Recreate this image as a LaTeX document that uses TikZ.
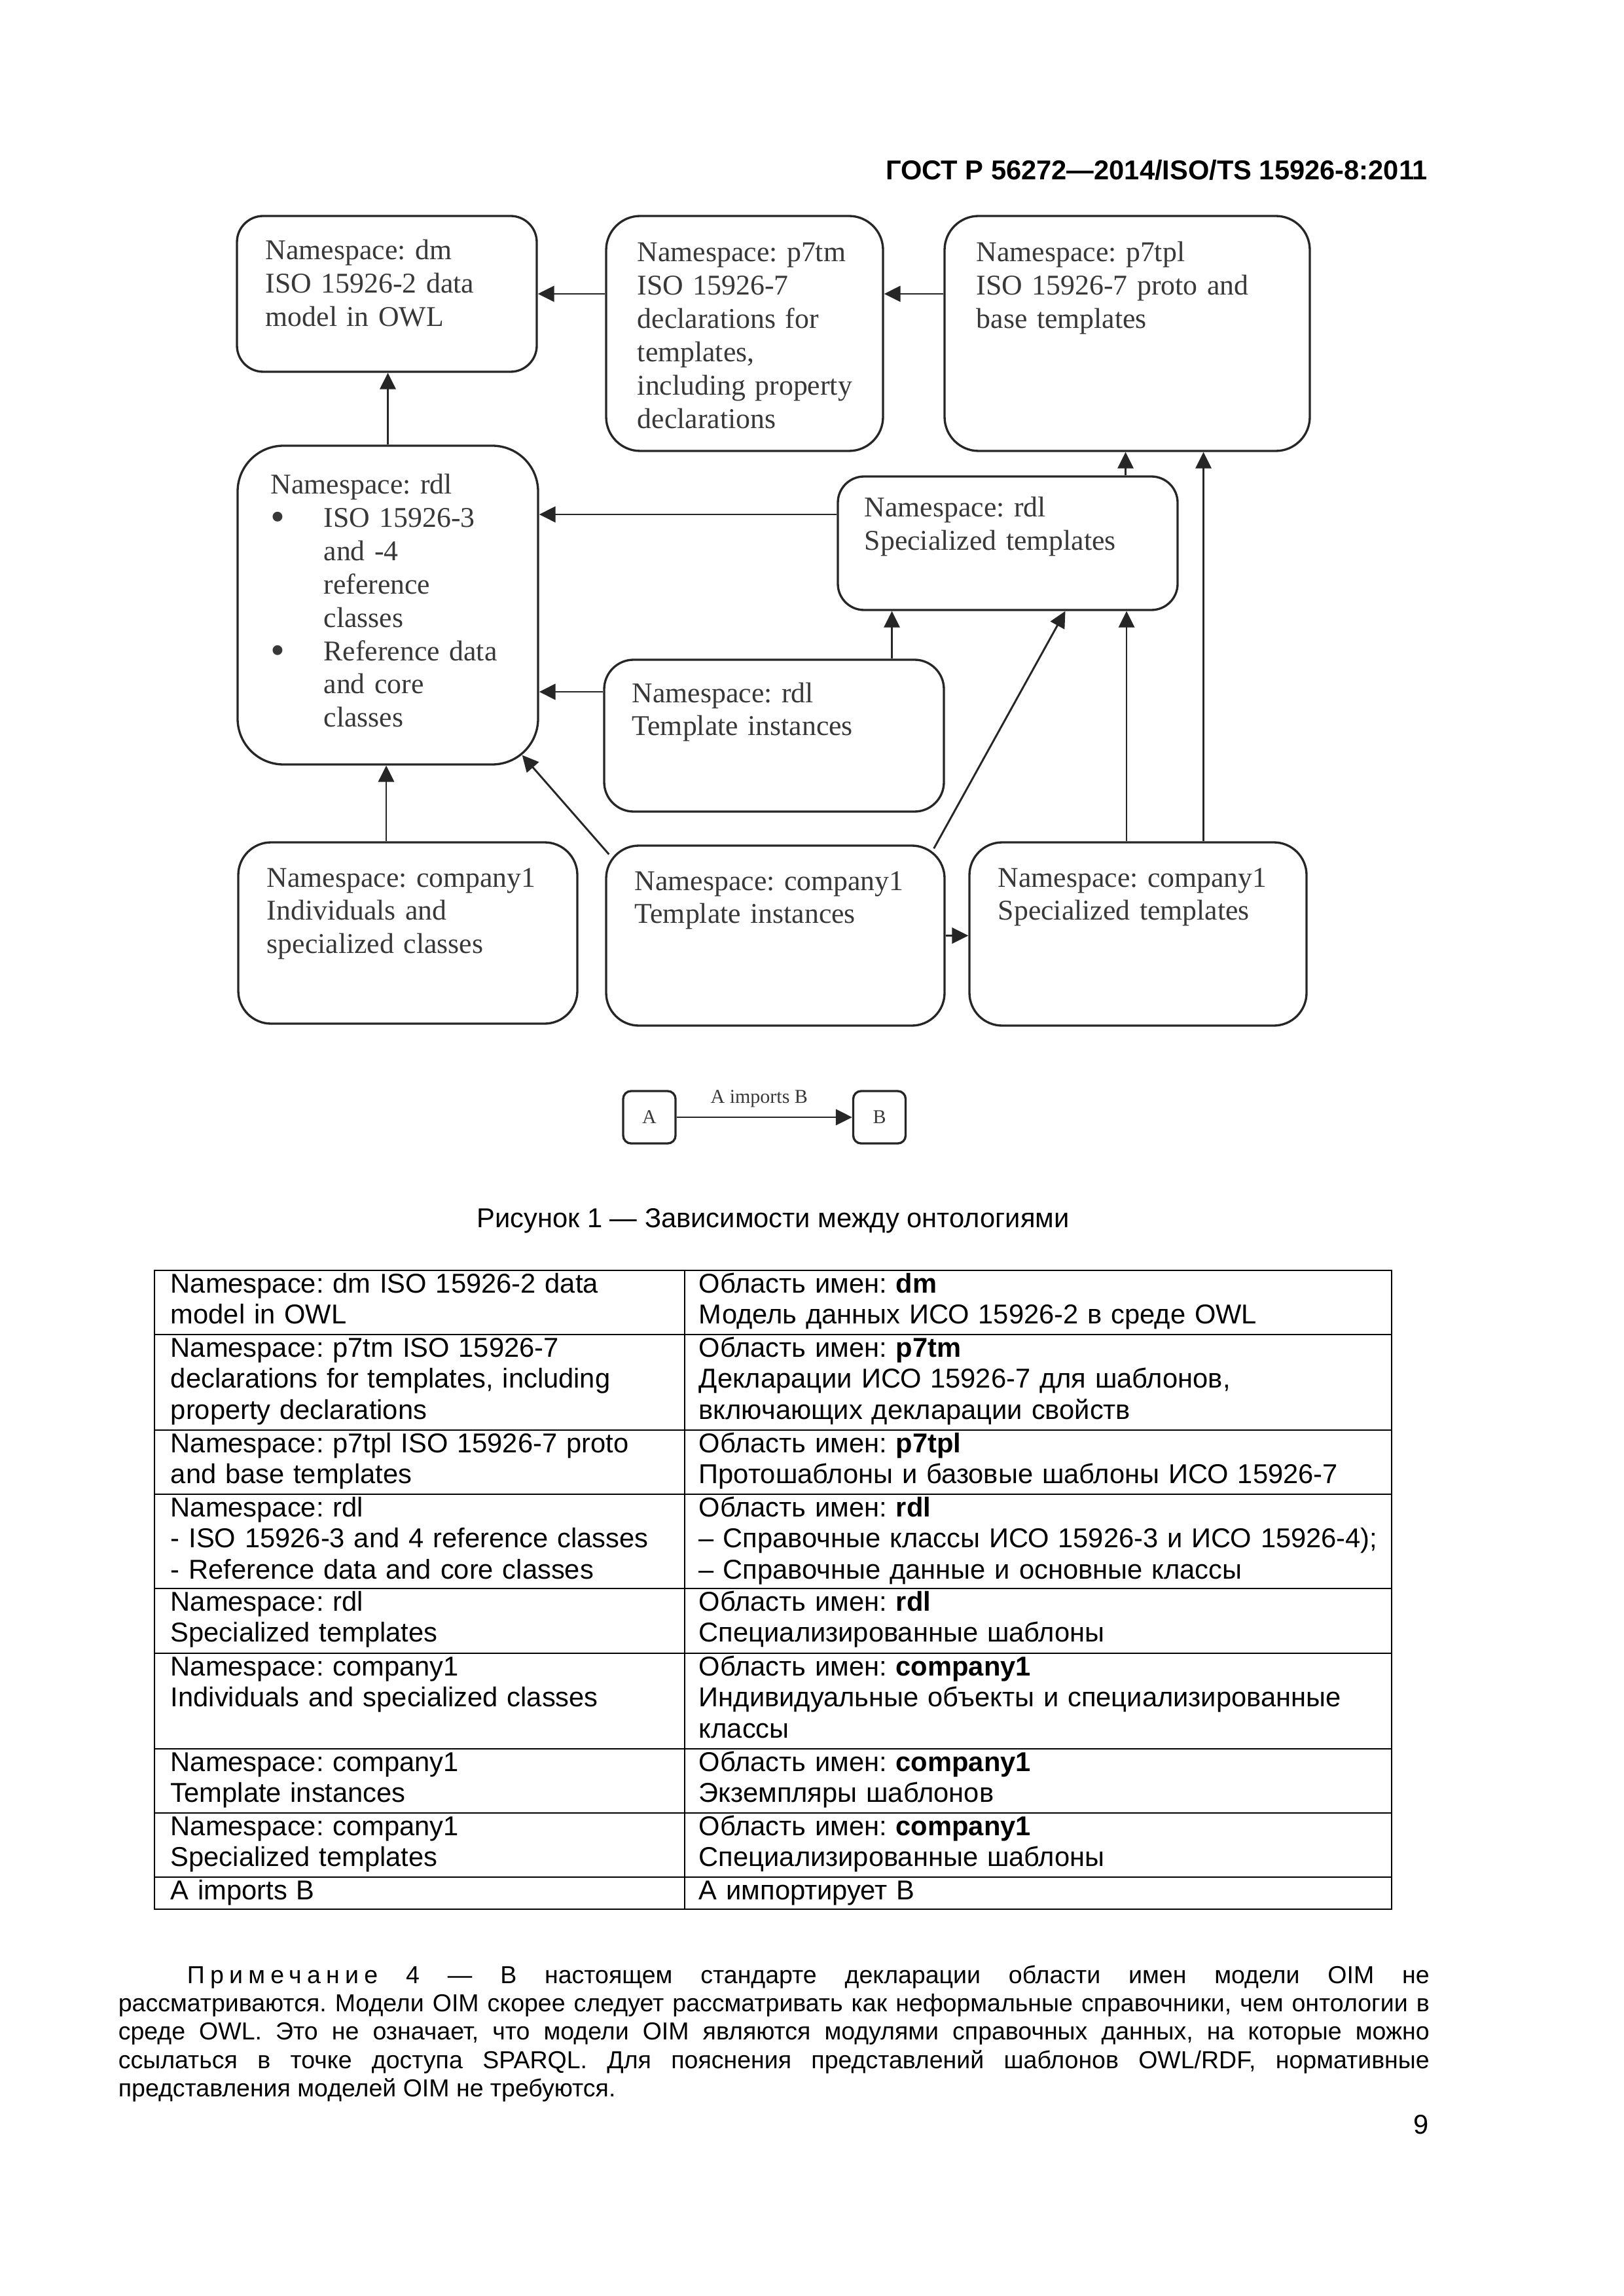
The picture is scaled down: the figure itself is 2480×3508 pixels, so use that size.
\documentclass[tikz,border=0pt]{standalone}
\usepackage{fontspec}
\setmainfont{Liberation Sans}
\newfontfamily\diafont{Liberation Serif}
\usetikzlibrary{arrows.meta}
\newdimen\pxu
\pxu=0.24pt
\newcommand{\nsbullet}{\makebox[19.4pt][l]{\raisebox{-1.2pt}{\fontsize{15}{12}\selectfont\textbullet}}}

\begin{document}
\frenchspacing
\begin{tikzpicture}[
    x=0.24pt, y=-0.24pt,
    nsbox/.style={
        draw=black!85,
        line width=0.8pt,
        inner sep=0pt
    },
    nstext/.style={
        anchor=base west,
        inner sep=0pt,
        text width=140pt,
        align=left,
        text=black!78,
        font=\diafont\fontsize{10.5}{12.2}\selectfont
    },
    imp/.style={
        -{Triangle[length=6pt,width=5.8pt]},
        draw=black!85,
        line width=0.7pt
    },
    tabline/.style={line width=0.7pt, line cap=rect},
    tabtext/.style={
        anchor=base west,
        inner sep=0pt,
        text width=260pt,
        align=left,
        font=\fontsize{10}{11.5}\selectfont
    }
]

% Page
\fill[white] (0,0) rectangle (2480,3508);
\useasboundingbox (0,0) rectangle (2480,3508);

% Header
\node[anchor=base east, inner sep=0pt, font=\bfseries] (header) at (2182,275)
    {ГОСТ Р 56272—2014/ISO/TS 15926-8:2011};

% Namespace boxes
\node[nsbox, minimum width=458\pxu, minimum height=238\pxu, rounded corners=40\pxu] (dm) at (591,449) {};
\node[nsbox, minimum width=423\pxu, minimum height=359\pxu, rounded corners=52\pxu] (p7tm) at (1137.5,509.5) {};
\node[nsbox, minimum width=558\pxu, minimum height=359\pxu, rounded corners=52\pxu] (p7tpl) at (1722,509.5) {};
\node[nsbox, minimum width=459\pxu, minimum height=487\pxu, rounded corners=70\pxu] (rdl) at (592.5,924.5) {};
\node[nsbox, minimum width=519\pxu, minimum height=204\pxu, rounded corners=40\pxu] (rdlspec) at (1539.5,830) {};
\node[nsbox, minimum width=519\pxu, minimum height=232\pxu, rounded corners=45\pxu] (rdlinst) at (1182.5,1124) {};
\node[nsbox, minimum width=518\pxu, minimum height=277\pxu, rounded corners=50\pxu] (coind) at (623,1425.5) {};
\node[nsbox, minimum width=517\pxu, minimum height=275\pxu, rounded corners=50\pxu] (coinst) at (1184.5,1429.5) {};
\node[nsbox, minimum width=515\pxu, minimum height=280\pxu, rounded corners=50\pxu] (cospec) at (1738.5,1427) {};

% Box texts
\node[nstext] (dmtxt) at (405,397) {Namespace: dm\\ISO 15926-2 data\\model in OWL};
\node[nstext] (p7tmtxt) at (973,400) {Namespace: p7tm\\ISO 15926-7\\declarations for\\templates,\\including property\\declarations};
\node[nstext] (p7tpltxt) at (1491,400) {Namespace: p7tpl\\ISO 15926-7 proto and\\base templates};
\node[nstext] (rdltxt) at (413,755) {Namespace: rdl\\
    \nsbullet ISO 15926-3\\
    \hspace*{19.4pt}and -4\\
    \hspace*{19.4pt}reference\\
    \hspace*{19.4pt}classes\\
    \nsbullet Reference data\\
    \hspace*{19.4pt}and core\\
    \hspace*{19.4pt}classes};
\node[nstext] (rdlspectxt) at (1320,790) {Namespace: rdl\\Specialized templates};
\node[nstext] (rdlinsttxt) at (965,1073) {Namespace: rdl\\Template instances};
\node[nstext] (coindtxt) at (407,1355) {Namespace: company1\\Individuals and\\specialized classes};
\node[nstext] (coinsttxt) at (969,1360) {Namespace: company1\\Template instances};
\node[nstext] (cospectxt) at (1524,1355) {Namespace: company1\\Specialized templates};

% Imports
\coordinate (s4) at ([yshift=44\pxu]rdlspec.west);
\coordinate (s5) at ([yshift=67\pxu]rdlinst.west);
\coordinate (s6) at ([xshift=180\pxu]rdlinst.north);
\coordinate (s7) at ([xshift=180\pxu]rdlspec.north);
\coordinate (s8) at ([xshift=100\pxu]cospec.north);
\coordinate (s9) at ([xshift=-17.5\pxu]cospec.north);
\coordinate (s10) at ([xshift=-18\pxu, yshift=-6\pxu]coinst.north east);
\coordinate (t10) at ([xshift=88\pxu]rdlspec.south);
\coordinate (s11) at ([xshift=6\pxu, yshift=-15\pxu]coinst.north west);
\coordinate (t11) at ([xshift=-26\pxu, yshift=16\pxu]rdl.south east);
\coordinate (s12) at ([xshift=-33\pxu]coind.north);

\draw[imp] (rdl.north) -- (rdl.north |- dm.south);
\draw[imp] (p7tm.west |- dm.east) -- (dm.east);
\draw[imp] (p7tpl.west |- dm.east) -- (p7tm.east |- dm.east);
\draw[imp] (s4) -- (s4 -| rdl.east);
\draw[imp] (s5) -- (s5 -| rdl.east);
\draw[imp] (s6) -- (s6 |- rdlspec.south);
\draw[imp] (s7) -- (s7 |- p7tpl.south);
\draw[imp] (s8) -- (s8 |- p7tpl.south);
\draw[imp] (s9) -- (s9 |- rdlspec.south);
\draw[imp] (s10) -- (t10);
\draw[imp] (s11) -- (t11);
\draw[imp] (s12) -- (s12 |- rdl.south);
\draw[imp] (coinst.east) -- (coinst.east -| cospec.west);

% Legend
\node[nsbox, minimum width=80\pxu, minimum height=80\pxu, rounded corners=12\pxu,
      text=black!78, font=\diafont\fontsize{7.2}{8}\selectfont] (nsA) at (992,1707) {A};
\node[nsbox, minimum width=80\pxu, minimum height=80\pxu, rounded corners=12\pxu,
      text=black!78, font=\diafont\fontsize{7.2}{8}\selectfont] (nsB) at (1343.5,1707) {B};
\draw[imp] (nsA) -- node[above, xshift=-8\pxu, text=black!78,
      font=\diafont\fontsize{7.2}{8}\selectfont] (legtxt) {A imports B} (nsB);

% Caption
\node[anchor=base, inner sep=0pt] (caption) at (1181,1875)
    {Рисунок 1 — Зависимости между онтологиями};

% Table
\foreach \yy in {1941,2039,2185,2283,2427,2526,2672,2770,2868,2917}
    \draw[tabline] (236,\yy) -- (2126,\yy);
\foreach \xx in {236,1046,2126}
    \draw[tabline] (\xx,1941) -- (\xx,2917);

\node[tabtext] (tl1) at (260,1975) {Namespace: dm ISO 15926-2 data\\model in OWL};
\node[tabtext] (tr1) at (1067,1975) {Область имен: \textbf{dm}\\Модель данных ИСО 15926-2 в среде OWL};
\node[tabtext] (tl2) at (260,2073) {Namespace: p7tm ISO 15926-7\\declarations for templates, including\\property declarations};
\node[tabtext] (tr2) at (1067,2073) {Область имен: \textbf{p7tm}\\Декларации ИСО 15926-7 для шаблонов,\\включающих декларации свойств};
\node[tabtext] (tl3) at (260,2219) {Namespace: p7tpl ISO 15926-7 proto\\and base templates};
\node[tabtext] (tr3) at (1067,2219) {Область имен: \textbf{p7tpl}\\Протошаблоны и базовые шаблоны ИСО 15926-7};
\node[tabtext] (tl4) at (260,2317) {Namespace: rdl\\- ISO 15926-3 and 4 reference classes\\- Reference data and core classes};
\node[tabtext] (tr4) at (1067,2317) {Область имен: \textbf{rdl}\\– Справочные классы ИСО 15926-3 и ИСО 15926-4);\\– Справочные данные и основные классы};
\node[tabtext] (tl5) at (260,2461) {Namespace: rdl\\Specialized templates};
\node[tabtext] (tr5) at (1067,2461) {Область имен: \textbf{rdl}\\Специализированные шаблоны};
\node[tabtext] (tl6) at (260,2560) {Namespace: company1\\Individuals and specialized classes};
\node[tabtext] (tr6) at (1067,2560) {Область имен: \textbf{company1}\\Индивидуальные объекты и специализированные\\классы};
\node[tabtext] (tl7) at (260,2706) {Namespace: company1\\Template instances};
\node[tabtext] (tr7) at (1067,2706) {Область имен: \textbf{company1}\\Экземпляры шаблонов};
\node[tabtext] (tl8) at (260,2804) {Namespace: company1\\Specialized templates};
\node[tabtext] (tr8) at (1067,2804) {Область имен: \textbf{company1}\\Специализированные шаблоны};
\node[tabtext] (tl9) at (260,2902) {A imports B};
\node[tabtext] (tr9) at (1067,2902) {А импортирует В};

% Note
\node[anchor=base west, inner sep=0pt, text width=480.7pt, align=justify,
      font=\fontsize{9}{10.4}\selectfont] (note) at (180,3030)
    {\hspace*{25.2pt}{\addfontfeatures{LetterSpace=22}Примечание} 4 — В настоящем стандарте декларации области имен модели OIM не\linebreak
    рассматриваются. Модели OIM скорее следует рассматривать как неформальные справочники, чем онтологии в\linebreak
    среде OWL. Это не означает, что модели OIM являются модулями справочных данных, на которые можно\linebreak
    ссылаться в точке доступа SPARQL. Для пояснения представлений шаблонов OWL/RDF, нормативные\linebreak
    представления моделей OIM не требуются.};

% Page number
\node[anchor=base east, inner sep=0pt] (pagenum) at (2183,3260) {9};

\end{tikzpicture}
\end{document}
